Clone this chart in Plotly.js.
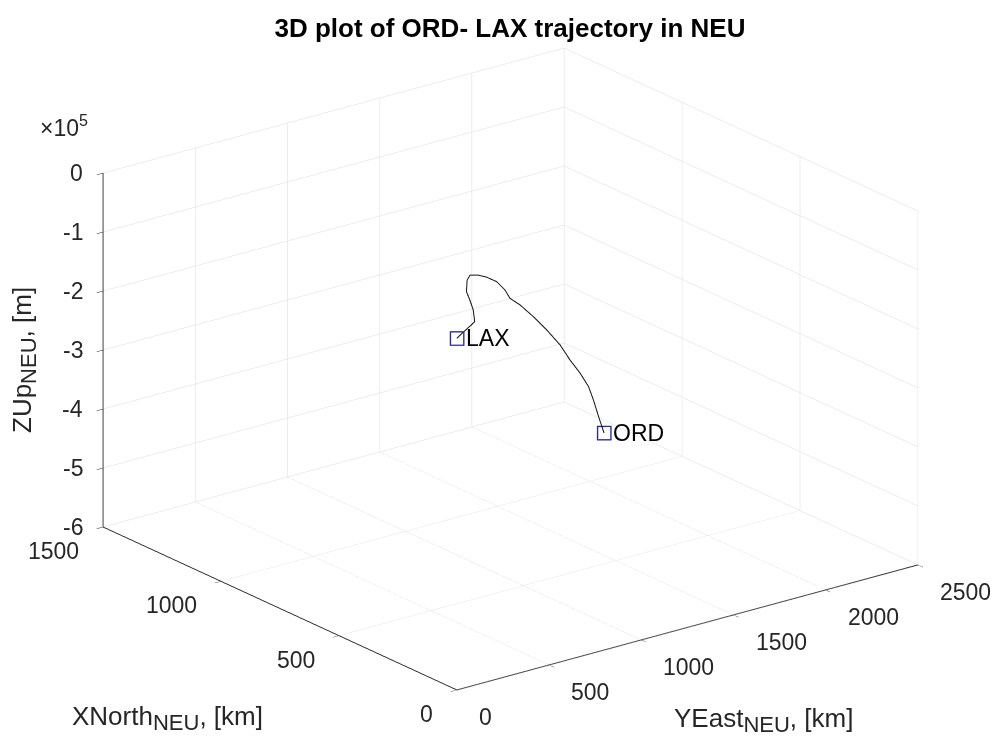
<!DOCTYPE html>
<html>
<head>
<meta charset="utf-8">
<script src="https://cdn.plot.ly/plotly-3.0.1.min.js"></script>
<style>
html,body{margin:0;padding:0;background:#ffffff;}
#plot{width:1000px;height:744px;}
</style>
</head>
<body>
<div id="plot"></div>
<script>
// Trajectory ORD <-> LAX in a local NEU frame (origin near LAX)
const northKm = [0, 10, 65, 126, 192, 269, 417, 535, 615, 640, 717, 819, 897, 914, 954, 993, 1033, 1079, 1107, 1132, 1167, 1213, 1238, 1256];
const eastKm  = [0, 30, 180, 250, 316, 396, 589, 756, 900, 980, 1133, 1308, 1435, 1512, 1635, 1757, 1881, 1993, 2084, 2162, 2233, 2320, 2370, 2404];
const upM     = [-4000, -3000, -3000, -400, -1150, -8000, -31800, -59300, -86200, -101100, -136000, -183600, -222900, -243900, -281600, -321500, -364900, -408200, -443500, -477700, -512800, -557000, -582600, -599500];

const airportNames = ['LAX', 'ORD'];
const airportNorth = [0, 1256];
const airportEast  = [0, 2404];
const airportUp    = [-4000, -599500];

const northRange = [0, 1500];
const eastRange  = [0, 2500];
const upRange    = [-600000, 0];
const northTicks = [0, 500, 1000, 1500];
const eastTicks  = [0, 500, 1000, 1500, 2000, 2500];
const upTicks    = [-600000, -500000, -400000, -300000, -200000, -100000, 0];
const upTickText = ['-6', '-5', '-4', '-3', '-2', '-1', '0'];

const FONT = 'Liberation Sans, Arial, Helvetica, sans-serif';
const AX = '#262626';
const TICKSIZE = 23;

function axisStyle(range, tickvals) {
  return {
    title: {text: ''},
    range: range,
    autorange: false,
    tickmode: 'array',
    tickvals: tickvals,
    showticklabels: false,
    showgrid: true,
    gridcolor: '#dcdcdc',
    gridwidth: 1,
    showline: true,
    linecolor: AX,
    linewidth: 2,
    ticks: 'outside',
    ticklen: 8,
    tickcolor: AX,
    zeroline: false,
    showbackground: false,
    showspikes: false
  };
}

const trajectory = {
  type: 'scatter3d',
  mode: 'lines',
  x: eastKm, y: northKm, z: upM,
  line: {color: '#111111', width: 2},
  hoverinfo: 'skip',
  showlegend: false
};

const airports = {
  type: 'scatter3d',
  mode: 'markers',
  x: airportEast, y: airportNorth, z: airportUp,
  marker: {symbol: 'square-open', size: 6, color: '#2a2a9c', line: {color: '#2a2a9c', width: 1}},
  hoverinfo: 'skip',
  showlegend: false
};

// Scene annotations: airport names + tick labels anchored at data coordinates
const sceneAnn = [];
airportNames.forEach((n, i) => sceneAnn.push({
  x: airportEast[i], y: airportNorth[i], z: airportUp[i],
  text: n, showarrow: false, xanchor: 'left', yanchor: 'middle', xshift: 7,
  font: {family: FONT, size: TICKSIZE, color: '#000000'}
}));
northTicks.forEach(v => sceneAnn.push({
  x: eastRange[0], y: v, z: upRange[0],
  text: String(v), showarrow: false, xanchor: 'right', yanchor: 'middle', xshift: -22, yshift: -24,
  font: {family: FONT, size: TICKSIZE, color: AX}
}));
eastTicks.forEach(v => sceneAnn.push({
  x: v, y: northRange[0], z: upRange[0],
  text: String(v), showarrow: false, xanchor: 'left', yanchor: 'middle', xshift: 20, yshift: -27,
  font: {family: FONT, size: TICKSIZE, color: AX}
}));
upTicks.forEach((v, i) => sceneAnn.push({
  x: eastRange[0], y: northRange[1], z: v,
  text: upTickText[i], showarrow: false, xanchor: 'right', yanchor: 'middle', xshift: -18, yshift: 0,
  font: {family: FONT, size: TICKSIZE, color: AX}
}));

const elev = 20.7 * Math.PI / 180;
const dir = [-0.6088, -0.7934, Math.tan(elev)];
const eyeLen = 1.8;
const norm = Math.sqrt(dir[0]*dir[0] + dir[1]*dir[1] + dir[2]*dir[2]);
const boxScale = 1.575;

// grid lines on the East=0 plane coincide with the dark axis lines; skip them there
const eastGridTicks = eastTicks.filter(v => v !== eastRange[0]);

const SUB = (t) => '<sub><span style="font-size:22px">' + t + '</span></sub>';

const layout = {
  width: 1000, height: 744,
  margin: {l: 0, r: 0, t: 0, b: 0},
  paper_bgcolor: '#ffffff',
  font: {family: FONT, color: AX},
  title: {
    text: '<b>3D plot of ORD- LAX trajectory in NEU</b>',
    font: {family: FONT, size: 26, color: '#000000'},
    x: 0.51, xanchor: 'center',
    y: 1 - 28/744, yanchor: 'middle'
  },
  scene: {
    domain: {x: [0.021, 1], y: [0.008, 1]},
    aspectmode: 'manual',
    aspectratio: {x: boxScale, y: boxScale, z: 0.651 * boxScale},
    camera: {
      eye: {x: dir[0]/norm*eyeLen, y: dir[1]/norm*eyeLen, z: dir[2]/norm*eyeLen},
      center: {x: 0, y: 0, z: 0},
      up: {x: 0, y: 0, z: 1},
      projection: {type: 'orthographic'}
    },
    xaxis: axisStyle(eastRange, eastGridTicks),
    yaxis: axisStyle(northRange, northTicks),
    zaxis: axisStyle(upRange, upTicks),
    annotations: sceneAnn
  },
  annotations: [
    {xref: 'paper', yref: 'paper', x: 70/1000, y: 1 - 718/744, xanchor: 'left', yanchor: 'middle',
     text: 'XNorth' + SUB('NEU') + ', [km]', showarrow: false, font: {family: FONT, size: 26, color: AX}},
    {xref: 'paper', yref: 'paper', x: 672/1000, y: 1 - 720/744, xanchor: 'left', yanchor: 'middle',
     text: 'YEast' + SUB('NEU') + ', [km]', showarrow: false, font: {family: FONT, size: 26, color: AX}},
    {xref: 'paper', yref: 'paper', x: 24/1000, y: 1 - 360/744, xanchor: 'center', yanchor: 'middle', textangle: -90,
     text: 'ZUp' + SUB('NEU') + ', [m]', showarrow: false, font: {family: FONT, size: 26, color: AX}},
    {xref: 'paper', yref: 'paper', x: 38/1000, y: 1 - 126/744, xanchor: 'left', yanchor: 'middle',
     text: '×10<sup>5</sup>', showarrow: false, font: {family: FONT, size: 23, color: AX}}
  ]
};

Plotly.newPlot('plot', [trajectory, airports], layout, {displayModeBar: false, responsive: false});
</script>
</body>
</html>
